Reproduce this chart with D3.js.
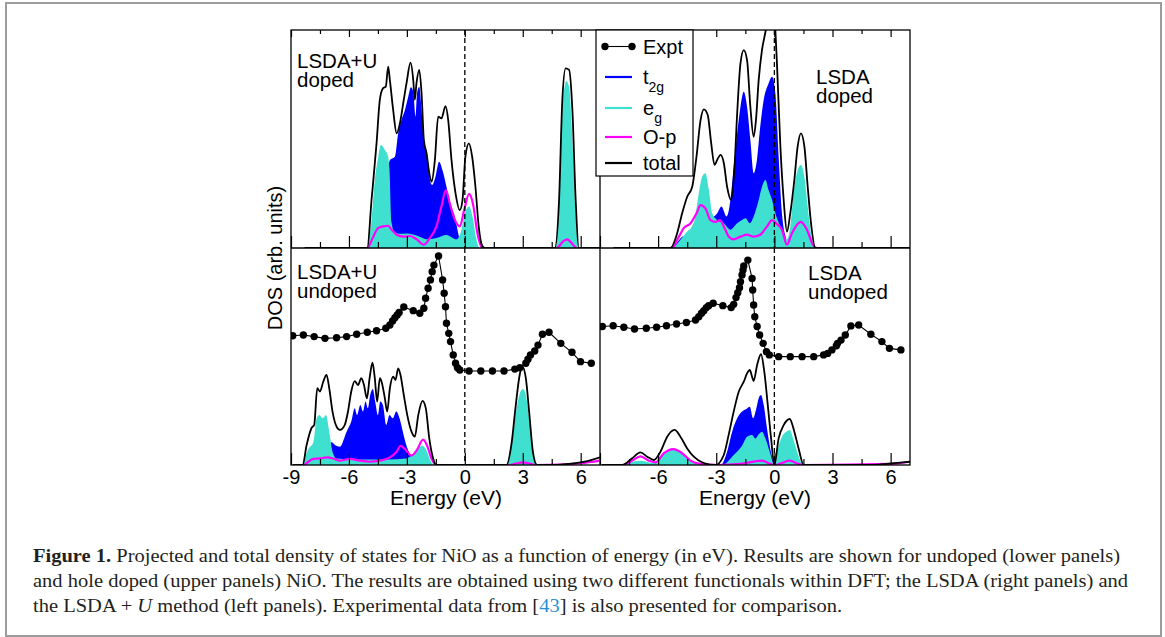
<!DOCTYPE html>
<html>
<head>
<meta charset="utf-8">
<script src="https://d3js.org/d3.v7.min.js"></script>
<style>
  body { margin: 0; background: #fff; }
  svg { display: block; }
</style>
</head>
<body>
<div id="canvas"></div>
<script>
// tick values (eV)
var tickValues = [-9, -7.5, -6, -4.5, -3, -1.5, 0, 1.5, 3, 4.5, 6];
var labelsLeft = [-9, -6, -3, 0, 3, 6];
var labelsRight = [-6, -3, 0, 3, 6];

// LSDA+U doped (upper left)
var luDopedT2g = [[-4.3,0],[-4.0,3.4],[-3.88,4.04],[-3.62,4.19],[-3.45,5.26],[-3.28,5.87],[-3.10,6.33],[-2.93,6.94],[-2.79,7.37],[-2.67,7.17],[-2.55,6.02],[-2.47,7.12],[-2.36,7.4],[-2.24,6.33],[-2.12,4.8],[-1.98,4.34],[-1.84,3.27],[-1.69,2.89],[-1.52,3.27],[-1.33,3.96],[-1.16,3.58],[-0.95,2.81],[-0.78,2.05],[-0.52,1.44],[-0.34,0.67],[-0.17,0]];
var luDopedEg = [[-5.05,0],[-4.83,1.28],[-4.66,3.12],[-4.48,4.19],[-4.35,4.72],[-4.14,4.5],[-3.97,4.19],[-3.9,3.6],[-3.8,1.2],[-3.65,0.75],[-3.3,0.65],[-3.02,0.67],[-2.33,0.52],[-1.98,0.4],[-1.47,0.46],[-0.95,0.6],[-0.43,0.4],[-0.17,0.85],[0.0,1.6],[0.22,1.9],[0.40,1.44],[0.60,0.4],[0.78,0],[4.71,0],[4.91,2.97],[5.09,6.8],[5.26,7.66],[5.4,7.4],[5.57,4.95],[5.74,1.44],[5.86,0]];
var luDopedOp = [[-8.2,0],[-5.05,0],[-4.74,0.52],[-4.48,0.92],[-4.23,0.99],[-3.97,1.02],[-3.79,0.84],[-3.53,0.61],[-3.19,0.52],[-2.84,0.55],[-2.50,0.4],[-2.12,0.15],[-1.81,0.46],[-1.47,0.99],[-1.21,1.9],[-0.98,2.66],[-0.78,2.05],[-0.52,1.3],[-0.26,0.99],[-0.03,1.76],[0.22,2.48],[0.43,1.99],[0.65,0.69],[0.91,0],[4.75,0],[5.09,0.3],[5.3,0.4],[5.5,0.26],[5.8,0],[7,0]];
var luDopedTotal = [[-8.3,0],[-5.05,0],[-4.83,2.2],[-4.57,4.8],[-4.40,6.8],[-4.23,7.33],[-4.09,7.4],[-3.97,8.32],[-3.88,7.7],[-3.71,6.33],[-3.53,5.26],[-3.36,5.72],[-3.16,6.8],[-3.02,7.55],[-2.81,8.5],[-2.67,7.7],[-2.59,6.8],[-2.50,7.57],[-2.36,8.17],[-2.24,7.1],[-2.12,4.95],[-1.98,4.34],[-1.84,3.43],[-1.72,3.04],[-1.55,4.04],[-1.38,6.02],[-1.21,5.95],[-1.0,6.51],[-0.86,5.87],[-0.69,4.04],[-0.48,2.51],[-0.26,1.74],[-0.12,2.2],[0.03,4.19],[0.21,4.8],[0.38,4.19],[0.55,2.81],[0.72,0.98],[0.90,0.1],[1.03,0],[4.66,0],[4.88,2.2],[5.05,6.8],[5.22,8.24],[5.40,8.17],[5.57,6.33],[5.74,2.2],[5.90,0],[7,0]];

// LSDA doped (upper right)
var lDopedT2g = [[-5.19,0],[-4.76,0.52],[-4.5,0.6],[-3.99,1.28],[-3.30,1.36],[-2.95,1.59],[-2.73,1.9],[-2.47,1.44],[-2.27,2.2],[-2.10,3.73],[-1.92,5.26],[-1.75,6.48],[-1.58,7.17],[-1.41,6.48],[-1.24,4.95],[-1.07,3.43],[-0.90,4.04],[-0.73,5.57],[-0.55,6.8],[-0.30,7.55],[-0.12,7.86],[0.05,7.1],[0.22,4.19],[0.39,1.59],[0.62,0.4],[0.82,0]];
var lDopedEg = [[-5.19,0],[-4.59,0.67],[-4.16,1.13],[-3.90,2.51],[-3.73,3.27],[-3.56,3.43],[-3.38,2.66],[-3.21,1.59],[-2.95,1.28],[-2.61,1.13],[-2.27,0.84],[-1.92,1.13],[-1.67,1.28],[-1.49,1.36],[-1.27,1.13],[-1.07,1.44],[-0.81,2.2],[-0.64,2.81],[-0.46,3.12],[-0.30,2.66],[-0.12,2.2],[0.05,1.59],[0.31,0.99],[0.65,0.4],[0.82,0.99],[1.03,2.81],[1.20,3.58],[1.37,3.81],[1.55,3.27],[1.72,1.9],[1.89,0.67],[2.06,0]];
var lDopedOp = [[-8.3,0],[-5.28,0],[-4.93,0.52],[-4.67,0.92],[-4.33,1.13],[-4.02,1.59],[-3.81,1.97],[-3.56,1.82],[-3.30,1.28],[-3.04,1.2],[-2.81,1.28],[-2.61,0.99],[-2.35,0.52],[-2.10,0.4],[-1.75,0.52],[-1.41,0.61],[-1.07,0.52],[-0.73,0.61],[-0.38,0.99],[-0.12,1.28],[0.10,1.13],[0.39,0.84],[0.65,0.15],[0.90,0.67],[1.37,1.2],[1.68,0.84],[1.99,0.15],[2.2,0],[7,0]];
var lDopedTotal = [[-8.3,0],[-5.36,0],[-5.02,0.67],[-4.76,1.59],[-4.50,2.35],[-4.24,2.81],[-4.02,4.19],[-3.81,5.87],[-3.64,6.36],[-3.44,6.1],[-3.26,4.8],[-3.09,3.81],[-2.92,4.1],[-2.78,4.27],[-2.61,3.9],[-2.44,2.81],[-2.23,2.2],[-2.06,3.67],[-1.92,6.18],[-1.75,8.47],[-1.58,9.08],[-1.41,8.62],[-1.24,6.48],[-1.07,5.1],[-0.95,5.87],[-0.81,7.7],[-0.64,9.08],[-0.46,9.92],[-0.25,11.2],[-0.1,11.4],[0.05,10.0],[0.14,8.32],[0.31,4.65],[0.48,2.2],[0.65,0.75],[0.82,1.59],[1.03,3.12],[1.20,4.65],[1.37,5.26],[1.55,4.65],[1.72,2.81],[1.91,0.99],[2.11,0],[7,0]];

// LSDA+U undoped (lower left)
var luUndopedT2g = [[-7.4,0],[-7.1,0.9],[-6.90,1.04],[-6.72,0.92],[-6.47,0.84],[-6.12,1.53],[-5.88,1.99],[-5.70,2.6],[-5.58,2.29],[-5.41,2.75],[-5.27,2.45],[-5.14,2.91],[-5.02,2.6],[-4.90,3.21],[-4.76,3.49],[-4.64,2.91],[-4.50,2.29],[-4.38,2.91],[-4.24,2.75],[-4.07,1.83],[-3.90,2.29],[-3.73,2.14],[-3.55,2.45],[-3.38,2.14],[-3.21,1.53],[-3.03,0.92],[-2.83,0.46],[-2.69,0.2],[-2.52,0]];
var luUndopedEg = [[-8.4,0],[-8.10,0.73],[-7.84,1.04],[-7.67,2.14],[-7.53,2.29],[-7.36,2.14],[-7.19,2.29],[-7.02,1.53],[-6.85,0.61],[-6.64,0.3],[-5.5,0.25],[-4.0,0.25],[-3.03,0.3],[-2.69,0.5],[-2.41,0.8],[-2.19,0.88],[-1.98,0.66],[-1.78,0.2],[-1.55,0],[2.16,0],[2.47,1.22],[2.71,2.75],[2.88,3.36],[3.02,3.49],[3.16,3.21],[3.33,2.14],[3.50,0.92],[3.67,0]];
var luUndopedOp = [[-8.9,0],[-8.36,0],[-8.10,0.15],[-7.84,0.28],[-7.50,0.3],[-7.16,0.35],[-6.81,0.3],[-6.47,0.2],[-5.96,0.28],[-5.44,0.2],[-4.93,0.15],[-4.40,0.2],[-3.88,0.35],[-3.53,0.61],[-3.33,0.88],[-3.10,0.73],[-2.76,0.43],[-2.50,0.66],[-2.16,1.16],[-1.95,0.88],[-1.72,0.28],[-1.47,0],[2.3,0],[2.7,0.08],[3.0,0.12],[3.3,0.08],[3.7,0],[5,0.02],[6,0.08],[7,0.2]];
var luUndopedTotal = [[-8.9,0],[-8.40,0],[-8.19,0.92],[-7.93,1.71],[-7.80,1.83],[-7.64,3.52],[-7.50,3.37],[-7.33,3.82],[-7.16,4.13],[-7.02,3.52],[-6.85,2.45],[-6.64,1.76],[-6.47,1.61],[-6.22,1.83],[-6.05,2.45],[-5.88,3.37],[-5.70,3.85],[-5.53,3.67],[-5.36,3.98],[-5.22,3.67],[-5.07,3.06],[-4.93,3.98],[-4.78,4.69],[-4.66,3.98],[-4.54,2.91],[-4.40,3.98],[-4.31,3.82],[-4.14,3.06],[-4.02,2.45],[-3.88,3.52],[-3.71,4.05],[-3.59,3.9],[-3.45,4.43],[-3.33,4.13],[-3.16,3.21],[-2.98,2.29],[-2.76,1.53],[-2.59,1.3],[-2.41,2.29],[-2.19,2.94],[-2.02,2.6],[-1.84,1.22],[-1.64,0.3],[-1.47,0],[2.16,0],[2.41,0.92],[2.64,2.75],[2.84,4.13],[2.98,4.51],[3.16,3.98],[3.33,2.45],[3.53,0.58],[3.74,0],[4.5,0],[5.5,0.06],[6.2,0.15],[7,0.35]];
var luUndopedExpt = [[-8.91,5.93],[-8.36,5.96],[-7.80,5.89],[-7.24,5.81],[-6.64,5.84],[-6.12,5.89],[-5.60,6.00],[-5.05,6.09],[-4.57,6.16],[-4.09,6.27],[-3.88,6.42],[-3.74,6.61],[-3.62,6.76],[-3.50,6.88],[-3.40,7.00],[-3.16,7.25],[-2.67,7.08],[-2.33,6.96],[-2.12,7.19],[-2.03,7.65],[-1.90,8.11],[-1.78,8.49],[-1.69,8.87],[-1.60,9.17],[-1.36,9.59],[-1.15,8.49],[-1.07,7.88],[-1.00,7.26],[-0.95,6.50],[-0.83,6.04],[-0.74,5.66],[-0.60,5.05],[-0.48,4.67],[-0.38,4.46],[-0.26,4.36],[0.22,4.31],[0.83,4.31],[1.43,4.31],[2.03,4.31],[2.59,4.40],[2.85,4.46],[3.16,4.67],[3.27,4.85],[3.40,5.05],[3.62,5.23],[3.79,5.50],[4.02,6.00],[4.36,6.09],[4.97,5.58],[5.55,5.17],[5.99,4.74],[6.55,4.67]];

// LSDA undoped (lower right)
var lUndopedT2g = [[-7.8,0],[-7.0,0.1],[-6.3,0.02],[-5.2,0.15],[-4.3,0],[-2.78,0],[-2.44,0.61],[-2.18,1.53],[-1.92,2.14],[-1.67,2.45],[-1.44,2.57],[-1.27,2.67],[-1.10,2.14],[-0.93,2.60],[-0.81,3.06],[-0.69,3.21],[-0.55,2.75],[-0.38,1.68],[-0.21,0.73],[0,0]];
var lUndopedEg = [[-7.77,0],[-6.91,0.2],[-6.22,0.09],[-5.70,0.54],[-5.27,0.76],[-4.85,0.61],[-4.33,0.2],[-3.81,0],[-2.69,0],[-2.10,0.46],[-1.67,0.88],[-1.41,1.30],[-1.15,1.38],[-0.98,1.22],[-0.81,1.41],[-0.64,1.53],[-0.46,1.22],[-0.24,0.61],[0,0],[0.17,0.73],[0.39,1.30],[0.62,1.53],[0.79,1.61],[0.99,1.15],[1.20,0.54],[1.43,0]];
var lUndopedOp = [[-8.9,0],[-7.77,0],[-7.34,0.2],[-6.91,0.4],[-6.48,0.2],[-6.13,0.12],[-5.70,0.54],[-5.22,0.73],[-4.76,0.54],[-4.33,0.2],[-3.81,0.05],[-2.95,0],[-1.75,0.05],[-0.64,0.2],[-0.21,0.05],[0,0],[0.39,0.09],[0.79,0.2],[1.25,0.05],[1.51,0],[6,0.05],[7,0.15]];
var lUndopedTotal = [[-8.9,0],[-7.85,0],[-7.34,0.31],[-6.91,0.58],[-6.56,0.38],[-6.22,0.23],[-5.88,0.61],[-5.53,1.30],[-5.15,1.61],[-4.85,1.30],[-4.50,0.76],[-4.16,0.38],[-3.64,0.09],[-3.04,0],[-2.61,0.46],[-2.36,1.38],[-2.10,2.45],[-1.84,3.36],[-1.58,3.82],[-1.41,4.20],[-1.27,4.36],[-1.15,4.05],[-1.07,3.85],[-0.89,4.59],[-0.69,5.08],[-0.52,4.28],[-0.34,2.75],[-0.17,1.22],[0,0],[0.22,1.22],[0.48,1.83],[0.79,2.11],[1.03,1.53],[1.25,0.76],[1.51,0],[5,0],[6.35,0.1],[7,0.15]];
var lUndopedExpt = [[-8.88,6.35],[-8.32,6.39],[-7.77,6.32],[-7.22,6.24],[-6.61,6.27],[-6.08,6.32],[-5.57,6.39],[-5.05,6.47],[-4.54,6.54],[-4.07,6.65],[-3.90,6.80],[-3.76,6.96],[-3.64,7.08],[-3.51,7.22],[-3.39,7.31],[-3.16,7.42],[-2.66,7.31],[-2.23,7.22],[-2.10,7.37],[-1.98,7.68],[-1.89,7.90],[-1.80,8.13],[-1.75,8.41],[-1.67,8.72],[-1.62,8.94],[-1.58,9.13],[-1.37,9.40],[-1.15,8.56],[-1.12,8.03],[-1.07,7.34],[-1.01,6.80],[-0.89,6.35],[-0.76,5.96],[-0.58,5.58],[-0.41,5.20],[-0.26,5.05],[0.22,4.97],[0.82,4.97],[1.43,4.97],[2.03,4.97],[2.54,5.05],[2.75,5.12],[2.97,5.28],[3.20,5.47],[3.26,5.58],[3.44,5.73],[3.66,5.96],[3.95,6.38],[4.35,6.42],[4.98,6.00],[5.55,5.66],[5.94,5.35],[6.53,5.28]];

var captionLines = [
  [{t: 'Figure 1.', w: 'bold'}, {t: ' Projected and total density of states for NiO as a function of energy (in eV). Results are shown for undoped (lower panels)'}],
  [{t: 'and hole doped (upper panels) NiO. The results are obtained using two different functionals within DFT; the LSDA (right panels) and'}],
  [{t: 'the LSDA + '}, {t: 'U', s: 'italic'}, {t: ' method (left panels). Experimental data from ['}, {t: '43', c: '#2a8fd0'}, {t: '] is also presented for comparison.'}]
];
// widths of the two full (justified) lines
var captionWidths = [1088, 1095];

var t2g_color = '#0000ff',
  eg_color = '#40e0d0',
  op_color = '#ff00ff',
  total_color = '#000',
  font = '"Liberation Sans", Arial, sans-serif';

var svg = d3.select('#canvas').append('svg')
  .attr('width', 1165)
  .attr('height', 637)
  .style('background-color', '#fff');

// outer figure box
svg.append('rect')
  .attr('x', 6).attr('y', 3).attr('width', 1155).attr('height', 633)
  .attr('fill', 'none').attr('stroke', '#9c9c9c').attr('stroke-width', 2);

var panels = [
  {id: 'ud', x0: 291, x1: 600, y0: 30, y1: 248, t2g: luDopedT2g, eg: luDopedEg, op: luDopedOp, total: luDopedTotal,
    label: ['LSDA+U', 'doped'], lx: 297, ly: 68, topTicks: true},
  {id: 'd', x0: 600, x1: 910, y0: 30, y1: 248, t2g: lDopedT2g, eg: lDopedEg, op: lDopedOp, total: lDopedTotal,
    label: ['LSDA', 'doped'], lx: 816, ly: 84, topTicks: true},
  {id: 'uu', x0: 291, x1: 600, y0: 248, y1: 465, t2g: luUndopedT2g, eg: luUndopedEg, op: luUndopedOp, total: luUndopedTotal,
    expt: luUndopedExpt, label: ['LSDA+U', 'undoped'], lx: 297, ly: 278.5, labels: labelsLeft},
  {id: 'u', x0: 600, x1: 910, y0: 248, y1: 465, t2g: lUndopedT2g, eg: lUndopedEg, op: lUndopedOp, total: lUndopedTotal,
    expt: lUndopedExpt, label: ['LSDA', 'undoped'], lx: 808, ly: 280, labels: labelsRight}
];

var defs = svg.append('defs');

panels.forEach(function(p) {
  var x = d3.scaleLinear().domain([-9, 7]).range([p.x0, p.x1]);
  var y = d3.scaleLinear().domain([0, 10]).range([p.y1, p.y1 - 218]);

  defs.append('clipPath').attr('id', 'clip-' + p.id)
    .append('rect')
    .attr('x', p.x0).attr('y', p.y0)
    .attr('width', p.x1 - p.x0).attr('height', p.y1 - p.y0);

  var g = svg.append('g').attr('clip-path', 'url(#clip-' + p.id + ')');

  var area = d3.area()
    .x(function(d) { return x(d[0]); })
    .y0(y(0))
    .y1(function(d) { return y(d[1]); })
    .curve(d3.curveMonotoneX);
  var line = d3.line()
    .x(function(d) { return x(d[0]); })
    .y(function(d) { return y(d[1]); })
    .curve(d3.curveMonotoneX);

  g.append('path').datum(p.t2g).attr('d', area).attr('fill', t2g_color);
  g.append('path').datum(p.eg).attr('d', area).attr('fill', eg_color);
  g.append('path').datum(p.op).attr('d', line)
    .attr('fill', 'none').attr('stroke', op_color).attr('stroke-width', 2.2);
  g.append('path').datum(p.total).attr('d', line)
    .attr('fill', 'none').attr('stroke', total_color).attr('stroke-width', 1.8);

  // Fermi level
  g.append('line')
    .attr('x1', x(0)).attr('x2', x(0))
    .attr('y1', p.y0).attr('y2', p.y1)
    .attr('stroke', '#000').attr('stroke-width', 1.3)
    .attr('stroke-dasharray', '5,3');

  if (p.expt) {
    g.append('path').datum(p.expt)
      .attr('d', d3.line().x(function(d) { return x(d[0]); }).y(function(d) { return y(d[1]); }))
      .attr('fill', 'none').attr('stroke', '#000').attr('stroke-width', 1.1);
    g.selectAll('circle.expt').data(p.expt).enter().append('circle')
      .attr('class', 'expt')
      .attr('cx', function(d) { return x(d[0]); })
      .attr('cy', function(d) { return y(d[1]); })
      .attr('r', 3.7)
      .attr('fill', '#000');
  }

  // inside ticks
  var major = tickValues.filter(function(v) { return v % 3 === 0; });
  var minor = tickValues.filter(function(v) { return v % 3 !== 0; });
  [[major, 12, 7], [minor, 6, 4]].forEach(function(t) {
    var ax = svg.append('g')
      .attr('transform', 'translate(0,' + p.y1 + ')')
      .call(d3.axisTop(x).tickValues(t[0]).tickSize(t[1]).tickFormat(''));
    ax.select('.domain').remove();
    ax.selectAll('line').attr('stroke', '#000').attr('stroke-width', 1.2);
    if (p.topTicks) {
      var at = svg.append('g')
        .attr('transform', 'translate(0,' + p.y0 + ')')
        .call(d3.axisBottom(x).tickValues(t[0]).tickSize(t[2]).tickFormat(''));
      at.select('.domain').remove();
      at.selectAll('line').attr('stroke', '#000').attr('stroke-width', 1.2);
    }
  });

  if (p.labels) {
    var al = svg.append('g')
      .attr('transform', 'translate(0,' + p.y1 + ')')
      .call(d3.axisBottom(x).tickValues(p.labels).tickSize(0).tickPadding(5)
        .tickFormat(function(d) { return String(d); }));
    al.select('.domain').remove();
    al.selectAll('text')
      .attr('font-family', font).attr('font-size', 20).attr('fill', '#000');
  }

  // panel label
  svg.append('text')
    .attr('x', p.lx).attr('y', p.ly)
    .attr('font-family', font).attr('font-size', 20.5)
    .selectAll('tspan').data(p.label).enter().append('tspan')
    .attr('x', p.lx)
    .attr('dy', function(d, i) { return i ? 19 : 0; })
    .text(function(d) { return d; });
});

// panel frames
svg.append('rect')
  .attr('x', 291).attr('y', 30).attr('width', 619).attr('height', 435)
  .attr('fill', 'none').attr('stroke', '#000').attr('stroke-width', 1.3);
svg.append('line').attr('x1', 600).attr('x2', 600).attr('y1', 30).attr('y2', 465)
  .attr('stroke', '#000').attr('stroke-width', 1.3);
svg.append('line').attr('x1', 291).attr('x2', 910).attr('y1', 248).attr('y2', 248)
  .attr('stroke', '#000').attr('stroke-width', 1.3);

// axis titles
svg.append('text')
  .attr('transform', 'translate(282,258) rotate(-90)')
  .attr('text-anchor', 'middle')
  .attr('font-family', font).attr('font-size', 20)
  .text('DOS (arb. units)');
[[446, 'Energy (eV)'], [755, 'Energy (eV)']].forEach(function(d) {
  svg.append('text')
    .attr('x', d[0]).attr('y', 505)
    .attr('text-anchor', 'middle')
    .attr('font-family', font).attr('font-size', 21)
    .text(d[1]);
});

// legend
var legendItems = [
  {name: 'Expt', color: '#000', dots: true, y: 46.5},
  {name: 't', sub: '2g', color: t2g_color, y: 77},
  {name: 'e', sub: 'g', color: eg_color, y: 108},
  {name: 'O-p', color: op_color, y: 137},
  {name: 'total', color: '#000', y: 163}
];
var lg = svg.append('g');
lg.append('rect')
  .attr('x', 596).attr('y', 30).attr('width', 97).attr('height', 146)
  .attr('fill', '#fff').attr('stroke', '#000').attr('stroke-width', 1.2);
legendItems.forEach(function(it) {
  lg.append('line')
    .attr('x1', 605).attr('x2', 632).attr('y1', it.y).attr('y2', it.y)
    .attr('stroke', it.color).attr('stroke-width', it.dots ? 1.1 : 2.2);
  if (it.dots) {
    [605, 632].forEach(function(cx) {
      lg.append('circle').attr('cx', cx).attr('cy', it.y).attr('r', 3.7).attr('fill', '#000');
    });
  }
  var t = lg.append('text')
    .attr('x', 643).attr('y', it.y + 7)
    .attr('font-family', font).attr('font-size', 20)
    .text(it.name);
  if (it.sub) {
    t.append('tspan').attr('dy', 8).attr('font-size', 14).text(it.sub);
  }
});

// caption: condense the serif glyphs so the first line spans the reference width,
// justify the second line with a little word spacing, leave the last line natural
var capTexts = captionLines.map(function(parts, i) {
  var t = svg.append('text')
    .attr('x', 0).attr('y', 0)
    .attr('font-family', '"Liberation Serif", "Times New Roman", serif')
    .attr('font-size', 18.5)
    .attr('fill', '#231f20');
  parts.forEach(function(s) {
    t.append('tspan')
      .attr('font-weight', s.w || null)
      .attr('font-style', s.s || null)
      .attr('fill', s.c || null)
      .text(s.t);
  });
  return t;
});
var capScale = captionWidths[0] / capTexts[0].node().getComputedTextLength();
capTexts.forEach(function(t, i) {
  t.attr('transform', 'translate(33,' + (562 + i * 25) + ') scale(' + capScale + ',1)');
  if (i === 1) {
    var full = captionLines[i].map(function(s) { return s.t; }).join('');
    var spaces = full.split(' ').length - 1;
    var w = t.node().getComputedTextLength();
    t.attr('word-spacing', (captionWidths[i] / capScale - w) / spaces);
  }
});
</script>
</body>
</html>
